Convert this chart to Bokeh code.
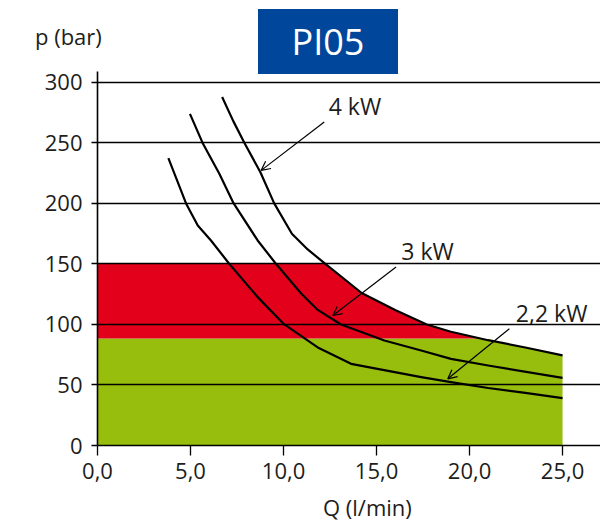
import numpy as np
from bokeh.plotting import figure
from bokeh.layouts import column
from bokeh.models import (Label, Arrow, OpenHead, FixedTicker, Range1d,
                          ColumnDataSource, Div)
from bokeh.embed import file_html
from bokeh.resources import INLINE

# ---- data ----
q_4kw = [6.7, 7.3, 7.9, 8.75, 9.5, 10.45, 11.3, 12.25, 14.2, 16.0, 17.7, 19.0, 21.0, 23.0, 25.0]
p_4kw = [288, 268, 250, 226, 200, 175, 162, 150, 126, 112, 100, 94, 87, 81, 74.4]

q_3kw = [4.97, 5.65, 6.55, 7.32, 8.61, 9.6, 10.96, 11.84, 13.09, 15.42, 17.4, 19.0, 21.0, 25.0]
p_3kw = [274, 250, 224.5, 200, 169.4, 150, 125.4, 112, 100, 86.8, 78.5, 71.6, 66.1, 55.9]

q_22kw = [3.81, 4.76, 5.39, 6.1, 7.09, 8.61, 10.04, 11.84, 13.63, 17.4, 19.0, 21.0, 23.0, 25.0]
p_22kw = [237.5, 200, 181.8, 169.4, 150, 122.6, 100, 81, 67.5, 56.5, 52.3, 47.5, 43.5, 39.1]

green_top = 88.5   # bar, continuous-duty zone limit
red_top = 150      # bar, intermittent zone limit

x_ticks = [0, 5, 10, 15, 20, 25]
x_tick_labels = ["0,0", "5,0", "10,0", "15,0", "20,0", "25,0"]
y_ticks = [0, 50, 100, 150, 200, 250, 300]

title_text = "PI05"
x_title = "Q (l/min)"
y_title = "p (bar)"

curve_names = ["4 kW", "3 kW", "2,2 kW"]
label_q = [12.43, 16.33, 22.49]
label_p = [280.2, 160.3, 109.3]
arrow_q0 = [12.19, 16.05, 22.14]
arrow_p0 = [267.2, 147.4, 96.4]
arrow_q1 = [8.8, 12.65, 18.83]
arrow_p1 = [227.3, 107.4, 55.1]

# ---- style ----
FONT = "Open Sans"
INK = "#1d1d1b"
RED = "#E2001A"
GREEN = "#97BE0D"
BLUE = "#00479B"

p = figure(width=600, height=441,
           x_range=Range1d(0, 27.04), y_range=Range1d(0, 309),
           output_backend="svg", toolbar_location=None,
           min_border_left=97, min_border_right=0,
           min_border_top=16, min_border_bottom=51)
p.outline_line_color = None
p.background_fill_color = None
p.border_fill_color = None

# ---- regions ----
qa = np.array(q_4kw, dtype=float)
pa = np.array(p_4kw, dtype=float)
q_red = float(np.interp(red_top, pa[::-1], qa[::-1]))
q_green = float(np.interp(green_top, pa[::-1], qa[::-1]))

m_red = (qa > q_red) & (qa < q_green)
red_x = [0, 0, q_red] + list(qa[m_red]) + [q_green]
red_y = [green_top, red_top, red_top] + list(pa[m_red]) + [green_top]

m_green = qa > q_green
green_x = [0, 0, q_green] + list(qa[m_green]) + [qa[-1]]
green_y = [0, green_top, green_top] + list(pa[m_green]) + [0]

p.patch(green_x, green_y, fill_color=GREEN, line_color=None)
p.patch(red_x, red_y, fill_color=RED, line_color=None)

# ---- curves ----
for qs, ps in [(q_4kw, p_4kw), (q_3kw, p_3kw), (q_22kw, p_22kw)]:
    p.line(qs, ps, line_color="black", line_width=2.2, line_join="round")

# ---- axes & grid ----
p.xgrid.visible = False
p.ygrid.ticker = FixedTicker(ticks=y_ticks)
p.ygrid.grid_line_color = "black"
p.ygrid.grid_line_width = 1.3
p.ygrid.level = "overlay"

p.xaxis.ticker = FixedTicker(ticks=x_ticks)
p.xaxis.major_label_overrides = {t: s for t, s in zip(x_ticks, x_tick_labels)}
p.yaxis.ticker = FixedTicker(ticks=y_ticks)

for ax in (p.xaxis, p.yaxis):
    ax.axis_line_color = "black"
    ax.axis_line_width = 1.6
    ax.major_tick_line_color = "black"
    ax.major_tick_line_width = 1.3
    ax.minor_tick_line_color = None
    ax.major_tick_in = 0
    ax.major_label_text_font = FONT
    ax.major_label_text_font_size = "22px"
    ax.major_label_text_color = INK

p.xaxis.major_tick_out = 10
p.xaxis.major_label_standoff = 7
p.yaxis.major_tick_out = 6
p.yaxis.major_label_standoff = 9

# ---- annotations ----
src = ColumnDataSource(dict(x0=arrow_q0, y0=arrow_p0, x1=arrow_q1, y1=arrow_p1))
p.add_layout(Arrow(end=OpenHead(size=9, line_width=1.2, line_color="black"),
                   x_start="x0", y_start="y0", x_end="x1", y_end="y1",
                   source=src, line_color="black", line_width=1.2))

for name, lq, lp in zip(curve_names, label_q, label_p):
    p.add_layout(Label(x=lq, y=lp, text=name, text_font=FONT,
                       text_font_size="23px", text_color=INK,
                       text_align="left", text_baseline="alphabetic"))

# ---- header band (axis title + product badge) ----
header_html = (
    '<div style="position:relative;width:600px;height:55px;overflow:visible;'
    f"font-family:'{FONT}';color:{INK};\">"
    '<span style="position:absolute;left:35px;top:25px;font-size:22px;'
    f'line-height:22px;white-space:nowrap;">{y_title}</span>'
    '<div style="position:absolute;left:258px;top:9px;width:140px;height:65px;'
    f'background:{BLUE};color:white;font-size:36px;line-height:36px;'
    'display:flex;align-items:center;justify-content:center;">'
    f'{title_text}</div></div>'
)
header = Div(text=header_html, width=600, height=55,
             styles={"overflow": "visible", "margin": "0", "padding": "0",
                     "z-index": "1"})

# ---- footer band (x axis title) ----
footer_html = (
    '<div style="position:relative;width:600px;height:26px;'
    f"font-family:'{FONT}';color:{INK};\">"
    '<span style="position:absolute;left:323px;top:0px;font-size:22px;'
    f'line-height:22px;white-space:nowrap;">{x_title}</span></div>'
)
footer = Div(text=footer_html, width=600, height=26,
             styles={"margin": "0", "padding": "0"})

layout = column(header, p, footer, spacing=0)

open("out.html", "w").write(file_html(layout, INLINE))
